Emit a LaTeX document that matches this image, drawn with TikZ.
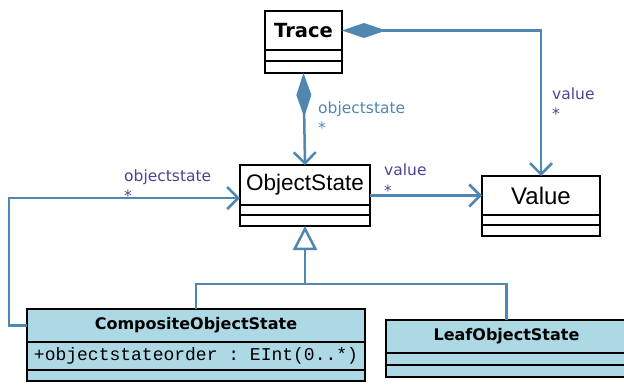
\documentclass[tikz,border=0pt]{standalone}
\usepackage{fontspec}
\setmainfont{DejaVu Sans}
\setmonofont{Liberation Mono}
\newfontfamily\clsfont{Liberation Sans}
\usetikzlibrary{arrows.meta}

\begin{document}
\begin{tikzpicture}[x=1pt,y=-1pt,
	box/.style={draw=black,line width=2.8pt,inner sep=0pt,outer sep=0pt},
	leafbox/.style={box,fill=cfill},
	assoc/.style={draw=cline,line width=2.5pt,-{Straight Barb[length=11pt,width=22pt]}},
	comp/.style={assoc,{Diamond[length=44pt,width=15pt]}-{Straight Barb[length=11pt,width=22pt]}},
	gen/.style={draw=cline,line width=2.5pt},
	lbl/.style={anchor=base west,inner sep=0pt,font=\fontsize{15.5}{18}\selectfont}]
	\definecolor{cline}{rgb}{0.31,0.53,0.69}
	\definecolor{cfill}{rgb}{0.68,0.85,0.90}
	\definecolor{cpurple}{rgb}{0.31,0.26,0.58}
	\useasboundingbox (0,0) rectangle (624,386);
	%
	\node[box,minimum width=77,minimum height=39,font=\fontsize{19.5}{22}\selectfont\bfseries] (tr) at (303.5,30.5) {Trace};
	\node[box,minimum width=77,minimum height=11,anchor=north] (tr2) at (tr.south) {};
	\node[box,minimum width=77,minimum height=12,anchor=north] (tr3) at (tr2.south) {};
	%
	\node[box,minimum width=130,minimum height=40,font=\fontsize{22.5}{26}\clsfont] (os) at (305,185) {ObjectState};
	\node[box,minimum width=130,minimum height=10,anchor=north] (os2) at (os.south) {};
	\node[box,minimum width=130,minimum height=11,anchor=north] (os3) at (os2.south) {};
	%
	\node[box,minimum width=118,minimum height=39,font=\fontsize{24}{28}\clsfont] (val) at (541,195.5) {Value};
	\node[box,minimum width=118,minimum height=10,anchor=north] (val2) at (val.south) {};
	\node[box,minimum width=118,minimum height=11,anchor=north] (val3) at (val2.south) {};
	%
	\node[leafbox,minimum width=338,minimum height=33,font=\fontsize{16}{19}\selectfont\bfseries] (cos) at (196,325.5) {CompositeObjectState};
	\node[leafbox,minimum width=338,minimum height=28,anchor=north,font=\fontsize{18}{20}\selectfont\ttfamily] (cos2) at (cos.south) {+objectstateorder : EInt(0..*)};
	\node[leafbox,minimum width=338,minimum height=11,anchor=north] (cos3) at (cos2.south) {};
	%
	\node[leafbox,minimum width=241,minimum height=33,font=\fontsize{16}{19}\selectfont\bfseries] (los) at (506.5,336.5) {LeafObjectState};
	\node[leafbox,minimum width=241,minimum height=12,anchor=north] (los2) at (los.south) {};
	\node[leafbox,minimum width=241,minimum height=12,anchor=north] (los3) at (los2.south) {};
	%
	\coordinate (genjoin) at (305,284);
	\draw[gen] (cos.north) |- (genjoin) -| (los.north);
	\draw[gen,-{Triangle[open,length=24pt,width=24pt]}] (genjoin) -- (os3.south);
	%
	\draw[comp] (tr3.south) -- (os.north);
	\draw[comp] (tr.east) -| (val.north);
	\draw[assoc] (os.east |- val.west) -- (val.west);
	\draw[assoc] (cos.west) -- ++(-18,0) |- ([yshift=-13pt]os.west);
	%
	\node[lbl,text=cline] (l1) at (318,113) {objectstate};
	\node[lbl,text=cline] (l1m) at (318,133) {*};
	\node[lbl,text=cpurple] (l2) at (552,99) {value};
	\node[lbl,text=cpurple] (l2m) at (552,119) {*};
	\node[lbl,text=cpurple] (l3) at (384,175) {value};
	\node[lbl,text=cpurple] (l3m) at (384,196) {*};
	\node[lbl,text=cpurple] (l4) at (124,181) {objectstate};
	\node[lbl,text=cpurple] (l4m) at (124,201) {*};
	%
\end{tikzpicture}
\end{document}
